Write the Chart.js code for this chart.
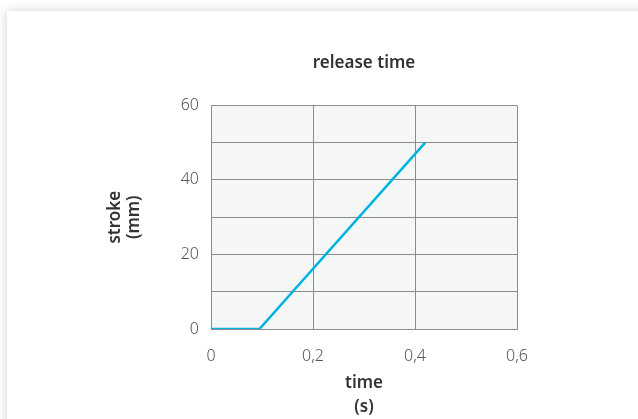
<!DOCTYPE html>
<html>
<head>
<meta charset="utf-8">
<script src="https://cdn.jsdelivr.net/npm/chart.js@4"></script>
<style>
html,body{margin:0;padding:0;background:#fff;overflow:hidden;}
#card{position:absolute;left:7px;top:11px;width:700px;height:500px;background:#fff;box-shadow:0 0 10px rgba(0,0,0,0.18);}
#wrap{position:absolute;left:0;top:0;width:638px;height:419px;}
</style>
</head>
<body>
<div id="card"></div>
<div id="wrap"><canvas id="myChart" width="638" height="419"></canvas></div>
<script>
// release time curve
var timeValues = [0, 0.095, 0.42];
var strokeValues = [0, 0, 50];
var xTicks = [0, 0.2, 0.4, 0.6];
var yTicks = [0, 20, 40, 60];

var points = [];
for (var i = 0; i < timeValues.length; i++) {
  points.push({x: timeValues[i], y: strokeValues[i]});
}

var areaBg = {
  id: 'areaBg',
  afterLayout: function(chart) {
    // centre the title over the plot area, not the whole canvas
    if (chart.titleBlock) {
      chart.titleBlock.left = chart.chartArea.left;
      chart.titleBlock.right = chart.chartArea.right;
    }
  },
  beforeDraw: function(chart) {
    var a = chart.chartArea, c = chart.ctx;
    c.save();
    c.fillStyle = '#f5f7f6';
    c.fillRect(a.left, a.top, a.right - a.left, a.bottom - a.top);
    c.restore();
  }
};

var fam = "'Noto Sans', sans-serif";

new Chart("myChart", {
  type: "line",
  data: {
    datasets: [{
      data: points,
      fill: false,
      pointRadius: 0,
      borderWidth: 2.5,
      borderColor: "#00b2e2",
      tension: 0
    }]
  },
  plugins: [areaBg],
  options: {
    responsive: false,
    animation: false,
    layout: {padding: {left: 106, right: 121, top: 50, bottom: 0}},
    plugins: {
      legend: {display: false},
      tooltip: {enabled: false},
      title: {
        display: true,
        text: "release time",
        color: "#333",
        font: {family: fam, size: 17, weight: "600", lineHeight: 1.2},
        padding: {top: 3, bottom: 32}
      }
    },
    scales: {
      x: {
        type: "linear",
        min: 0, max: 0.6,
        afterBuildTicks: function(s) { s.ticks = xTicks.map(function(v){ return {value: v}; }); },
        afterFit: function(s) { s.height = 90; },
        grid: {color: "#8c8c8c", drawTicks: false},
        border: {color: "#8c8c8c"},
        ticks: {
          padding: 18,
          color: "#555",
          font: {family: fam, size: 16, weight: "300"},
          callback: function(v) { return String(Math.round(v * 10) / 10).replace(".", ","); }
        },
        title: {
          display: true,
          text: ["time", "(s)"],
          color: "#333",
          font: {family: fam, size: 17, weight: "600", lineHeight: 1.4},
          padding: {top: 2, bottom: 0}
        }
      },
      y: {
        min: 0, max: 60,
        ticks: {
          stepSize: 10,
          padding: 12,
          color: "#555",
          font: {family: fam, size: 16, weight: "300"},
          callback: function(v) { return yTicks.indexOf(v) >= 0 ? String(v) : ""; }
        },
        afterFit: function(s) { s.width = 105; },
        grid: {color: "#8c8c8c", drawTicks: false},
        border: {color: "#8c8c8c"},
        title: {
          display: true,
          text: ["stroke", "(mm)"],
          color: "#333",
          font: {family: fam, size: 17, weight: "600", lineHeight: 1.1},
          padding: {top: 0, bottom: 0}
        }
      }
    }
  }
});
</script>
</body>
</html>
